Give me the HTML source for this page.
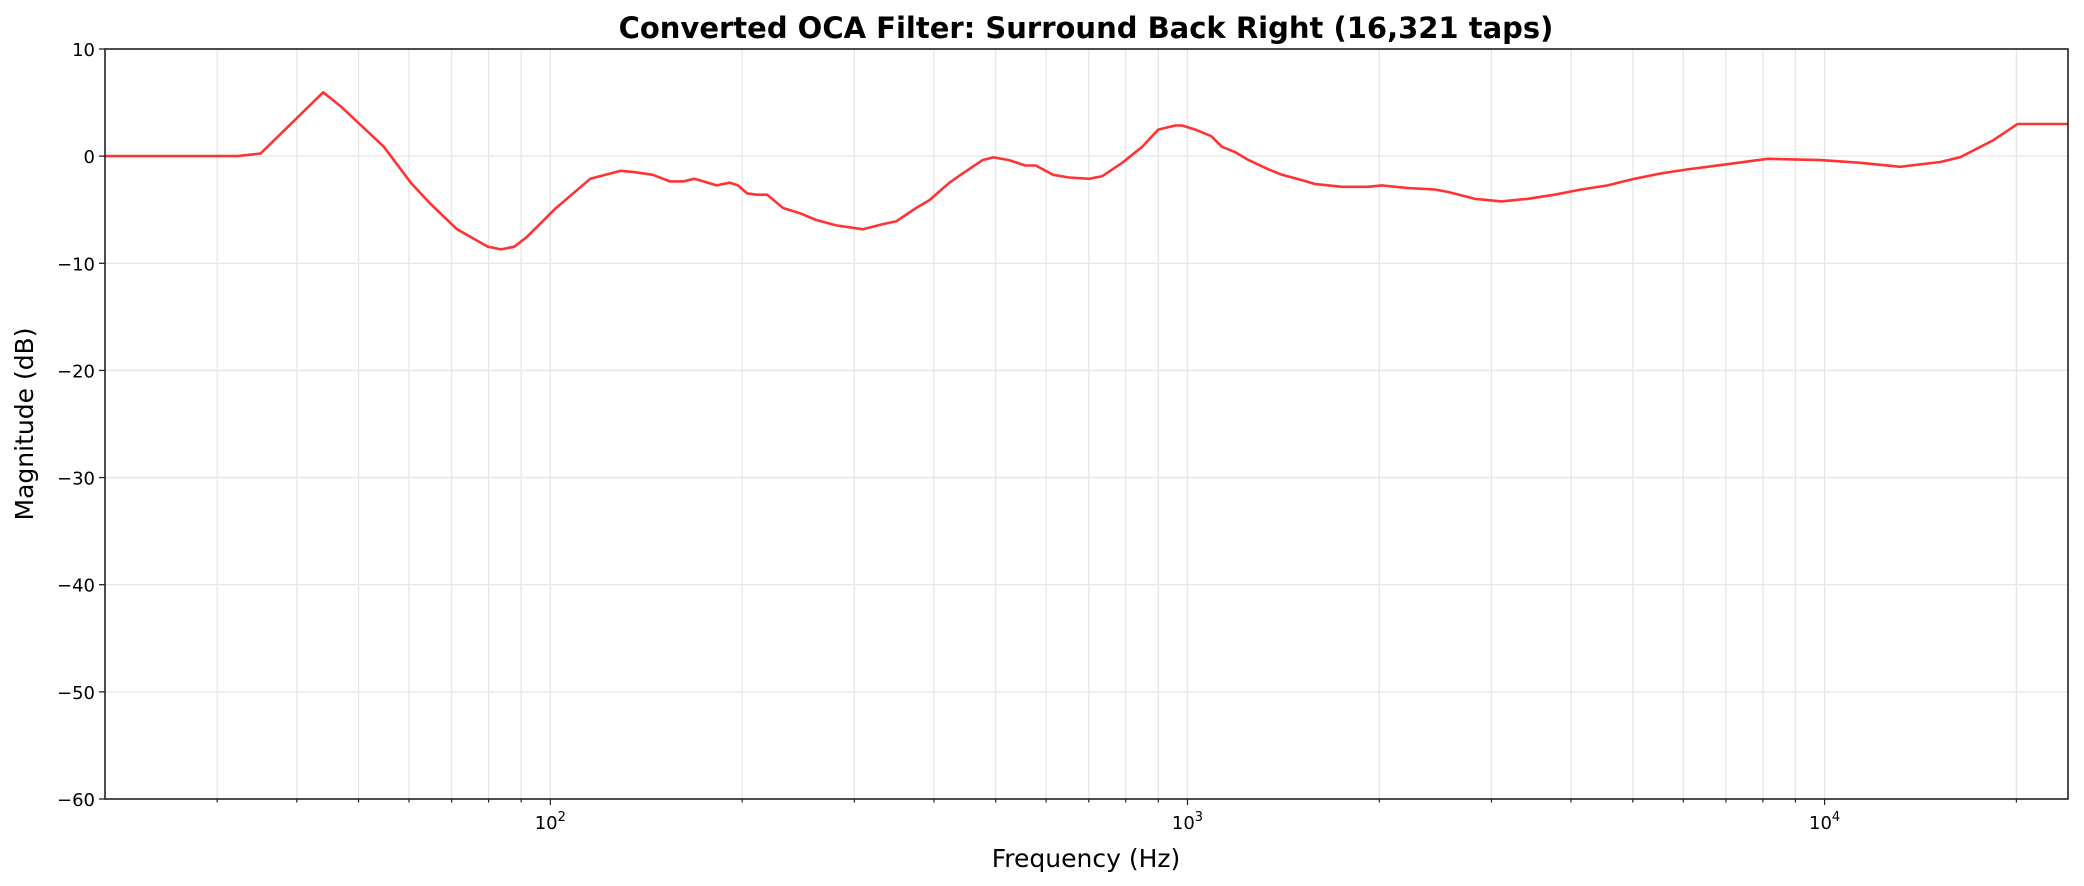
<!DOCTYPE html>
<html><head><meta charset="utf-8"><style>
html,body{margin:0;padding:0;background:#fff;}
svg{display:block;font-family:"DejaVu Sans","Liberation Sans",sans-serif;}
</style></head><body>
<svg id="chart" width="2084" height="886" viewBox="0 0 2084 886">
<rect x="0" y="0" width="2084" height="886" fill="#fff"/>
<text x="1086" y="38" text-anchor="middle" font-size="29" font-weight="bold">Converted OCA Filter: Surround Back Right (16,321 taps)</text>
<g id="grid"></g>
<g id="ticks"></g>
<g id="series"></g>
<rect x="105" y="49" width="1963" height="750" fill="none" stroke="#222" stroke-width="1.6"/>
<text x="1086" y="867" text-anchor="middle" font-size="25">Frequency (Hz)</text>
<text transform="translate(33,424) rotate(-90)" text-anchor="middle" font-size="25">Magnitude (dB)</text>
</svg>
<script>
const freqs = [20,32.3,35.1,44.0,47.0,54.8,60.4,64.9,71.4,79.8,83.7,87.8,91.7,101.5,115.5,129.0,135.4,144.8,154.1,161.8,168.1,173.9,182.4,191.3,197.0,203.7,210.7,219.0,231.9,246.9,261.5,281.1,309.5,332.6,348.9,375.1,393.6,423.0,443.9,477.0,495.7,525.1,556.4,578.1,615.4,652.0,700.7,735.2,790.0,849.2,899.6,957.7,980.8,1029,1090,1133,1189,1247,1341,1407,1512,1587,1747,1923,2017,2222,2445,2566,2824,3110,3423,3769,4150,4567,5029,5536,6095,7041,8134,9856,11390,13150,15190,16330,18410,20080,24100];
const magsDb = [0,0,0.25,5.96,4.6,0.87,-2.48,-4.47,-6.83,-8.45,-8.7,-8.45,-7.58,-4.97,-2.11,-1.37,-1.49,-1.74,-2.36,-2.36,-2.11,-2.36,-2.73,-2.48,-2.73,-3.48,-3.6,-3.6,-4.84,-5.34,-5.96,-6.46,-6.83,-6.34,-6.09,-4.84,-4.1,-2.48,-1.61,-0.37,-0.12,-0.37,-0.87,-0.87,-1.74,-1.99,-2.11,-1.86,-0.62,0.87,2.48,2.86,2.86,2.48,1.86,0.87,0.37,-0.37,-1.24,-1.74,-2.24,-2.61,-2.86,-2.86,-2.73,-2.98,-3.11,-3.35,-3.98,-4.22,-3.98,-3.6,-3.11,-2.73,-2.11,-1.61,-1.24,-0.75,-0.25,-0.37,-0.62,-0.99,-0.55,-0.1,1.5,3.0,3.0];
const yTicks = [10,0,-10,-20,-30,-40,-50,-60];
const xDecades = [100,1000,10000];
const xDecadeLabels = ["2","3","4"];

const NS="http://www.w3.org/2000/svg";
const L=105,R=2068,T=49,B=799,XMIN=20,XMAX=24100,YMIN=-60,YMAX=10;
function xs(f){return L+(Math.log10(f)-Math.log10(XMIN))/(Math.log10(XMAX)-Math.log10(XMIN))*(R-L);}
function ys(v){return T+(YMAX-v)/(YMAX-YMIN)*(B-T);}
function mk(tag,attrs,parent){const e=document.createElementNS(NS,tag);for(const k in attrs)e.setAttribute(k,attrs[k]);parent.appendChild(e);return e;}
const grid=document.getElementById('grid'),ticks=document.getElementById('ticks'),series=document.getElementById('series');
yTicks.forEach(v=>{
  const y=ys(v);
  const g=mk('line',{x1:L,x2:R,y1:y,y2:y,stroke:'#e6e6e6','stroke-width':1.3},grid);
  
  
  mk('line',{x1:L-6,x2:L,y1:y,y2:y,stroke:'#222','stroke-width':1.3},ticks);
  const t=mk('text',{x:L-10,y:y+7,'text-anchor':'end','font-size':18},ticks);
  t.textContent=(v<0?'\u2212':'')+Math.abs(v);
  
  
});
for(let d=10;d<=10000;d*=10){
  for(let m=1;m<=9;m++){
    const f=d*m; if(f<=XMIN||f>=XMAX) continue;
    const x=xs(f);
    const g=mk('line',{x1:x,x2:x,y1:T,y2:B,stroke:'#e6e6e6','stroke-width':1.3},grid);
    
    
    mk('line',{x1:x,x2:x,y1:B,y2:B+(m===1?6:3.5),stroke:'#222','stroke-width':1.2},ticks);
  }
}
xDecades.forEach((f,i)=>{
  const x=xs(f);
  const t=mk('text',{x:x,y:B+30,'text-anchor':'middle','font-size':18},ticks);
  t.textContent='10';
  const s=document.createElementNS(NS,'tspan');
  s.setAttribute('font-size','13');s.setAttribute('dy','-8');
  s.textContent=xDecadeLabels[i];t.appendChild(s);
  
  
});
const d=freqs.map((f,i)=>(i?'L':'M')+xs(f).toFixed(1)+','+ys(magsDb[i]).toFixed(1)).join(' ');
const p=mk('path',{d:d,fill:'none',stroke:'#ff3333','stroke-width':2.6,'stroke-linejoin':'round'},series);


</script>
</body></html>
